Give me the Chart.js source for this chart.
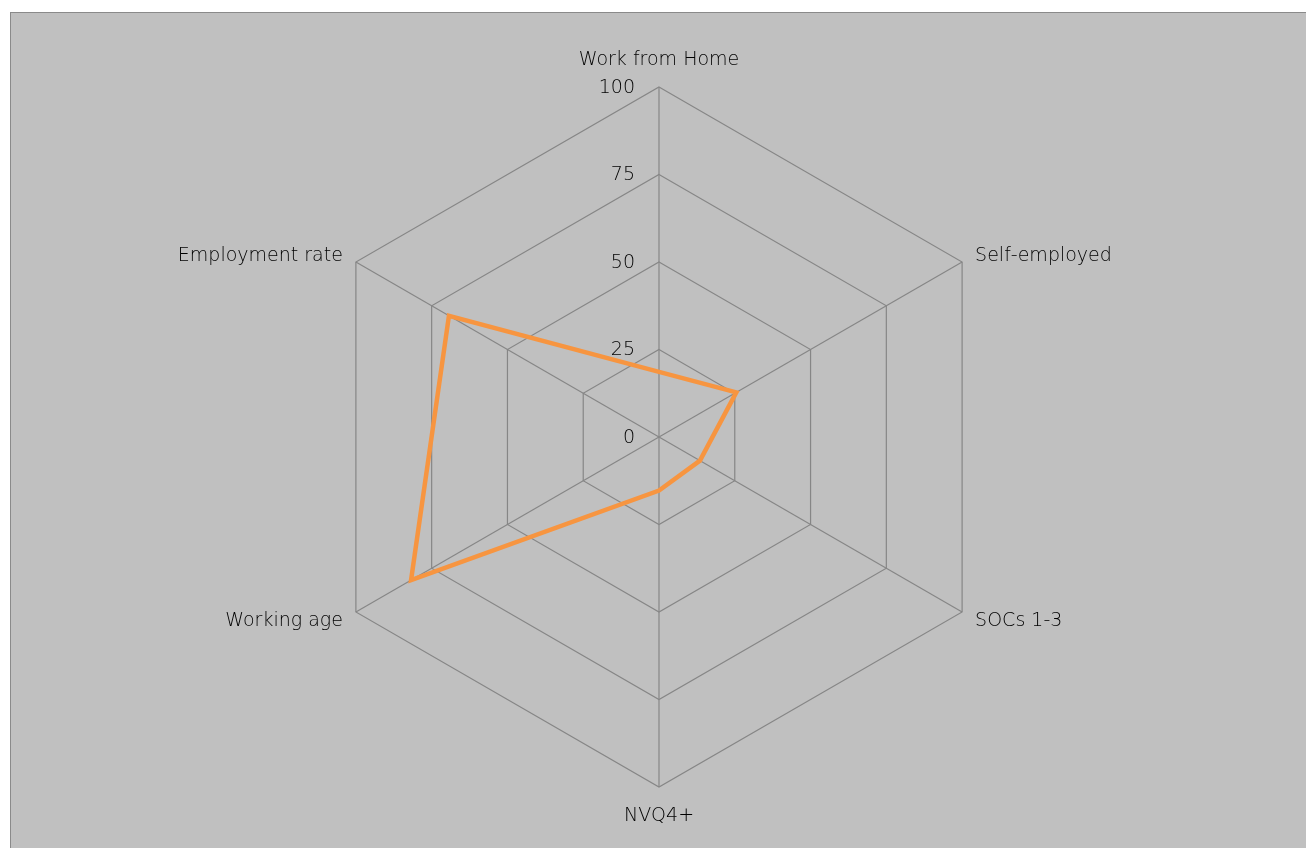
<!DOCTYPE html>
<html>
<head>
<meta charset="utf-8">
<script src="https://cdn.jsdelivr.net/npm/chart.js@4.4.1/dist/chart.umd.min.js"></script>
<style>
  html, body { margin: 0; padding: 0; background: #ffffff; overflow: hidden; }
  #frame {
    position: absolute; left: 10px; top: 12px;
    width: 1400px; height: 900px;
    background: #c0c0c0; border: 1px solid #8a8a8a;
    box-sizing: border-box;
  }
  #wrap { position: absolute; left: 0; top: 0; width: 1306px; height: 848px; }
</style>
</head>
<body>
<div id="frame"></div>
<div id="wrap"><canvas id="chartRadar"></canvas></div>
<script>
// categories, clockwise from the top
const categories = ['Work from Home', 'Self-employed', 'SOCs 1-3', 'NVQ4+', 'Working age', 'Employment rate'];
// series values (per cent)
const seriesValues = [18.6, 25.5, 13.5, 15.3, 81.8, 69.3];
// radial tick labels
const tickValues = [0, 25, 50, 75, 100];

const FONT = '200 19px "DejaVu Sans", sans-serif';
const TEXT_COLOR = '#000000';

/**
 * Draws the radial tick labels to the left of the vertical axis,
 * right aligned, using the scale's own distance function.
 */
const tickLabelPlugin = {
  id: 'tickLabels',
  beforeDatasetsDraw(chart) {
    const scale = chart.scales.r;
    const ctx = chart.ctx;
    ctx.save();
    ctx.font = FONT;
    ctx.fillStyle = TEXT_COLOR;
    ctx.textAlign = 'right';
    ctx.textBaseline = 'middle';
    tickValues.forEach(v => {
      const d = scale.getDistanceFromCenterForValue(v);
      ctx.fillText(String(v), scale.xCenter - 24, scale.yCenter - d + 1);
    });
    ctx.restore();
  }
};

/**
 * Draws the category labels just outside the outer hexagon.
 */
const pointLabelPlugin = {
  id: 'pointLabelsCustom',
  afterDraw(chart) {
    const scale = chart.scales.r;
    const ctx = chart.ctx;
    ctx.save();
    ctx.font = FONT;
    ctx.fillStyle = TEXT_COLOR;
    ctx.textBaseline = 'middle';
    categories.forEach((label, i) => {
      const p = scale.getPointPosition(i, scale.drawingArea);
      const dx = p.x - scale.xCenter;
      const dy = p.y - scale.yCenter;
      let x = p.x, y = p.y;
      if (Math.abs(dx) < 1) {
        ctx.textAlign = 'center';
        y += dy < 0 ? -27 : 29;
      } else {
        ctx.textAlign = dx > 0 ? 'left' : 'right';
        x += dx > 0 ? 13 : -13;
        y += dy < 0 ? -6 : 9;
      }
      ctx.fillText(label, x, y);
    });
    ctx.restore();
  }
};

const chartRadar = new Chart(document.getElementById('chartRadar').getContext('2d'), {
  type: 'radar',
  data: {
    labels: categories,
    datasets: [{
      label: 'Value',
      data: seriesValues,
      borderColor: '#f79540',
      borderWidth: 4.5,
      fill: false,
      pointRadius: 0,
      pointHoverRadius: 0,
      tension: 0
    }]
  },
  options: {
    responsive: true,
    maintainAspectRatio: false,
    animation: false,
    layout: { padding: { left: 309, right: 297, top: 87, bottom: 61 } },
    plugins: { legend: { display: false }, tooltip: { enabled: false } },
    scales: {
      r: {
        min: 0,
        max: 100,
        beginAtZero: true,
        ticks: { display: false, stepSize: 25 },
        pointLabels: { display: false },
        grid: { color: '#868686', lineWidth: 1.2 },
        angleLines: { color: '#868686', lineWidth: 1.2 }
      }
    }
  },
  plugins: [tickLabelPlugin, pointLabelPlugin]
});
</script>
</body>
</html>
